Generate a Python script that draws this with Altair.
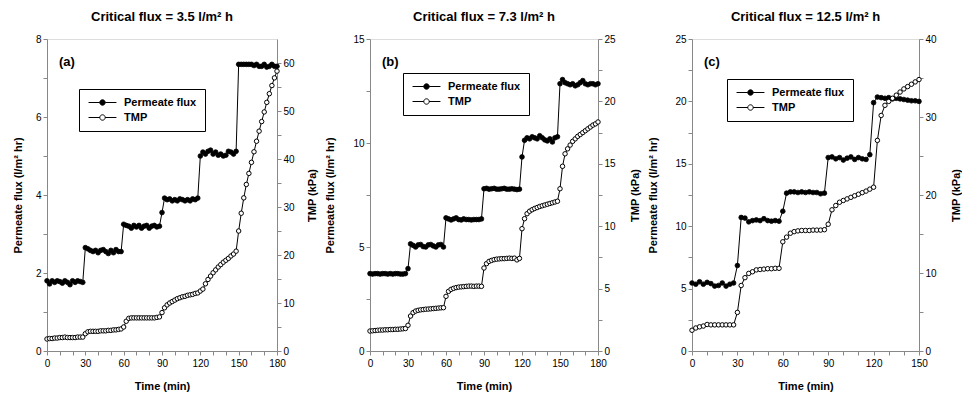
import altair as alt
import pandas as pd

series_names = ["Permeate flux", "TMP"]
titles = ["Critical flux = 3.5 l/m² h", "Critical flux = 7.3 l/m² h", "Critical flux = 12.5 l/m² h"]
panel_labels = ["(a)", "(b)", "(c)"]

time_ab = [0, 2, 4, 6, 8, 10, 12, 14, 16, 18, 20, 22, 24, 26, 28,
           30, 32, 34, 36, 38, 40, 42, 44, 46, 48, 50, 52, 54, 56, 58,
           60, 62, 64, 66, 68, 70, 72, 74, 76, 78, 80, 82, 84, 86, 88,
           90, 92, 94, 96, 98, 100, 102, 104, 106, 108, 110, 112, 114, 116, 118,
           120, 122, 124, 126, 128, 130, 132, 134, 136, 138, 140, 142, 144, 146, 148,
           150, 152, 154, 156, 158, 160, 162, 164, 166, 168, 170, 172, 174, 176, 178, 180]
time_c = [0, 2.5, 5, 7.5, 10, 12.5, 15, 17.5, 20, 22.5, 25, 27.5,
          30, 32.5, 35, 37.5, 40, 42.5, 45, 47.5, 50, 52.5, 55, 57.5,
          60, 62.5, 65, 67.5, 70, 72.5, 75, 77.5, 80, 82.5, 85, 87.5,
          90, 92.5, 95, 97.5, 100, 102.5, 105, 107.5, 110, 112.5, 115, 117.5,
          120, 122.5, 125, 127.5, 130, 132.5, 135, 137.5, 140, 142.5, 145, 147.5, 150]

flux_a = [1.80, 1.72, 1.80, 1.76, 1.80, 1.78, 1.74, 1.80, 1.76, 1.70, 1.80, 1.76, 1.80, 1.78, 1.76,
          2.65, 2.62, 2.58, 2.55, 2.58, 2.52, 2.58, 2.60, 2.55, 2.50, 2.58, 2.52, 2.60, 2.55, 2.55,
          3.25, 3.22, 3.20, 3.15, 3.22, 3.18, 3.22, 3.15, 3.20, 3.22, 3.15, 3.20, 3.22, 3.18, 3.20,
          3.55, 3.92, 3.88, 3.90, 3.85, 3.88, 3.85, 3.90, 3.88, 3.85, 3.88, 3.85, 3.90, 3.88, 3.92,
          5.00, 5.10, 5.05, 5.12, 5.15, 5.05, 5.10, 5.02, 5.05, 5.00, 5.02, 5.12, 5.10, 5.05, 5.12,
          7.35, 7.35, 7.35, 7.35, 7.35, 7.35, 7.32, 7.35, 7.30, 7.30, 7.35, 7.28, 7.30, 7.35, 7.30, 7.30]
tmp_a = [2.5, 2.6, 2.6, 2.7, 2.7, 2.8, 2.8, 2.9, 2.8, 2.8, 2.8, 2.8, 2.9, 2.9, 2.9,
         3.6, 4.0, 4.1, 4.1, 4.1, 4.1, 4.2, 4.2, 4.2, 4.3, 4.3, 4.4, 4.4, 4.5, 4.6,
         5.0, 6.2, 6.8, 6.9, 6.9, 6.9, 6.9, 6.9, 6.9, 6.9, 6.9, 6.9, 6.9, 7.0, 7.1,
         8.0, 9.0, 9.6, 10.0, 10.3, 10.6, 10.9, 11.1, 11.3, 11.4, 11.6, 11.7, 11.8, 12.0, 12.1,
         12.5, 12.9, 14.0, 14.9, 15.6, 16.3, 16.9, 17.5, 18.0, 18.5, 18.9, 19.3, 19.8, 20.2, 20.8,
         25.0, 28.7, 31.9, 34.7, 37.0, 39.3, 41.5, 43.7, 45.8, 47.8, 49.8, 51.8, 53.6, 55.3, 56.9, 58.3]

flux_b = [3.72, 3.70, 3.72, 3.72, 3.70, 3.72, 3.72, 3.70, 3.72, 3.70, 3.72, 3.72, 3.70, 3.70, 3.72,
          3.96, 5.15, 5.08, 5.00, 5.10, 5.12, 5.02, 5.00, 5.10, 5.12, 5.05, 5.00, 5.10, 5.12, 5.00,
          6.40, 6.35, 6.30, 6.35, 6.40, 6.32, 6.30, 6.35, 6.32, 6.32, 6.30, 6.32, 6.32, 6.32, 6.35,
          7.80, 7.82, 7.78, 7.80, 7.82, 7.78, 7.78, 7.80, 7.82, 7.78, 7.78, 7.80, 7.78, 7.76, 7.78,
          9.33, 10.13, 10.25, 10.20, 10.30, 10.25, 10.20, 10.35, 10.25, 10.15, 10.10, 10.20, 10.05, 10.25, 10.30,
          12.85, 13.05, 12.90, 12.85, 12.80, 12.85, 12.75, 12.80, 12.90, 13.00, 12.85, 12.80, 12.85, 12.85, 12.80, 12.85]
tmp_b = [1.60, 1.62, 1.64, 1.66, 1.68, 1.68, 1.70, 1.70, 1.72, 1.72, 1.74, 1.74, 1.76, 1.78, 1.80,
         2.06, 2.80, 3.07, 3.20, 3.26, 3.30, 3.32, 3.35, 3.36, 3.38, 3.40, 3.42, 3.44, 3.46, 3.47,
         4.38, 4.78, 4.94, 5.02, 5.08, 5.12, 5.14, 5.16, 5.18, 5.20, 5.20, 5.18, 5.20, 5.20, 5.18,
         6.65, 7.00, 7.18, 7.26, 7.32, 7.36, 7.38, 7.40, 7.40, 7.42, 7.44, 7.42, 7.44, 7.30, 7.42,
         9.80, 10.60, 11.00, 11.20, 11.32, 11.42, 11.50, 11.58, 11.64, 11.70, 11.76, 11.82, 11.88, 11.94, 12.00,
         13.0, 14.8, 15.8, 16.2, 16.5, 16.8, 17.0, 17.2, 17.35, 17.5, 17.65, 17.8, 17.95, 18.1, 18.2, 18.35]

flux_c = [5.45, 5.35, 5.55, 5.35, 5.50, 5.40, 5.20, 5.25, 5.45, 5.20, 5.35, 5.45,
          6.85, 10.70, 10.65, 10.35, 10.45, 10.50, 10.45, 10.60, 10.45, 10.40, 10.45, 10.40,
          11.20, 12.65, 12.75, 12.75, 12.70, 12.75, 12.70, 12.75, 12.70, 12.70, 12.60, 12.65,
          15.50, 15.55, 15.40, 15.50, 15.30, 15.45, 15.55, 15.35, 15.50, 15.40, 15.35, 15.73,
          19.90, 20.35, 20.30, 20.25, 20.30, 20.20, 20.25, 20.20, 20.15, 20.10, 20.05, 20.05, 20.00]
tmp_c = [2.66, 2.95, 3.10, 3.20, 3.40, 3.35, 3.35, 3.35, 3.35, 3.35, 3.35, 3.35,
         4.95, 8.40, 9.40, 9.95, 10.16, 10.40, 10.45, 10.50, 10.55, 10.55, 10.60, 10.60,
         14.00, 14.60, 15.10, 15.30, 15.40, 15.45, 15.45, 15.45, 15.50, 15.50, 15.50, 15.55,
         16.25, 18.10, 18.65, 19.07, 19.30, 19.50, 19.70, 19.90, 20.10, 20.30, 20.50, 20.75,
         21.00, 27.00, 30.20, 31.50, 32.00, 32.40, 32.80, 33.20, 33.60, 33.90, 34.20, 34.50, 34.80]

x_max = [180, 180, 150]
flux_max = [8, 15, 25]
flux_major = [2, 5, 5]
flux_minor = [1, 2.5, 2.5]
tmp_max = [65, 25, 40]
tmp_major = [10, 5, 10]
tmp_minor = [5, 2.5, 5]

FONT = "Liberation Sans"
SYM = "M-3.1,0H-0.6M0.6,0H3.1M-0.6,0A0.6,0.6,0,1,1,0.6,0A0.6,0.6,0,1,1,-0.6,0"

widths = [230, 228, 227]
left_title_x = [-29, -40, -39]
right_title_x = [35, 37, 37]
legend_xy = [(32, 50), (33, 34), (35, 40)]


def ticks(maxv, step):
    out, v = [], 0.0
    while v <= maxv + 1e-9:
        out.append(round(v, 3))
        v += step
    return out


def panel(i, times, flux, tmp):
    df_f = pd.DataFrame({"t": times, "v": flux, "series": series_names[0]})
    df_t = pd.DataFrame({"t": times, "v": tmp, "series": series_names[1]})

    x_enc = alt.X("t:Q", scale=alt.Scale(domain=[0, x_max[i]], nice=False, zero=False),
                  axis=alt.Axis(title="Time (min)", values=ticks(x_max[i], 10),
                                labelExpr="datum.value % 30 === 0 ? datum.label : ''",
                                labelFlush=False, labelOverlap=False, titlePadding=12,
                                tickSize=4, labelPadding=3, grid=False))
    fill_enc = alt.Fill("series:N",
                        scale=alt.Scale(domain=series_names, range=["black", "white"]),
                        legend=alt.Legend(title=None, orient="none",
                                          legendX=legend_xy[i][0], legendY=legend_xy[i][1],
                                          symbolType=SYM, symbolSize=81,
                                          symbolStrokeColor="black", symbolStrokeWidth=1,
                                          symbolOffset=10, labelOffset=16,
                                          labelFont=FONT, labelFontSize=11, labelFontWeight="bold",
                                          labelColor="black",
                                          padding=8, rowPadding=3,
                                          strokeColor="black", fillColor="white"))

    y_left = alt.Y("v:Q", scale=alt.Scale(domain=[0, flux_max[i]], nice=False),
                   axis=alt.Axis(orient="left", title="Permeate flux (l/m² hr)",
                                 values=ticks(flux_max[i], flux_minor[i]),
                                 labelExpr=f"datum.value % {flux_major[i]} === 0 ? datum.label : ''",
                                 titleX=left_title_x[i], titleBaseline="middle", titleAngle=270,
                                 labelOverlap=False, tickSize=4, labelPadding=2, grid=False))
    y_right = alt.Y("v:Q", scale=alt.Scale(domain=[0, tmp_max[i]], nice=False),
                    axis=alt.Axis(orient="right", title="TMP (kPa)",
                                  values=ticks(60 if i == 0 else tmp_max[i], tmp_minor[i]),
                                  labelExpr=f"datum.value % {tmp_major[i]} === 0 ? datum.label : ''",
                                  titleX=right_title_x[i], titleBaseline="middle", titleAngle=270,
                                  labelOverlap=False, tickSize=4, labelPadding=2, grid=False))

    f_line = alt.Chart(df_f).mark_line(color="black", strokeWidth=1).encode(x=x_enc, y=y_left)
    f_pts = alt.Chart(df_f).mark_point(filled=True, size=22, stroke="black", strokeWidth=0.8,
                                       opacity=1).encode(x=x_enc, y=y_left, fill=fill_enc)
    t_line = alt.Chart(df_t).mark_line(color="black", strokeWidth=1).encode(x=x_enc, y=y_right)
    t_pts = alt.Chart(df_t).mark_point(filled=True, size=20, stroke="black", strokeWidth=1,
                                       opacity=1).encode(x=x_enc, y=y_right, fill=fill_enc)

    lab = alt.Chart(pd.DataFrame({"label": [panel_labels[i]]})).mark_text(
        font=FONT, fontSize=13, fontWeight="bold", align="left", baseline="middle", color="black"
    ).encode(x=alt.value(12), y=alt.value(23), text="label:N")

    return alt.layer(alt.layer(f_line, f_pts), alt.layer(t_line, t_pts), lab).resolve_scale(
        y="independent"
    ).properties(
        width=widths[i], height=312,
        title=alt.TitleParams(titles[i], font=FONT, fontSize=13, fontWeight="bold",
                              color="black", baseline="alphabetic", offset=0, frame="group"),
    )


chart = alt.hconcat(
    panel(0, time_ab, flux_a, tmp_a),
    panel(1, time_ab, flux_b, tmp_b),
    panel(2, time_c, flux_c, tmp_c),
    spacing=5,
).resolve_scale(x="independent", y="independent", fill="independent").resolve_legend(
    fill="independent"
).properties(
    padding={"left": 11, "top": 10, "right": 0, "bottom": 0}
).configure_axis(
    labelFont=FONT, labelFontSize=11, labelFontWeight="bold", labelColor="black",
    titleFont=FONT, titleFontSize=13, titleFontWeight="bold", titleColor="black",
    domainColor="black", tickColor="black", grid=False, domainWidth=1,
).configure_view(stroke="black", strokeWidth=1).configure(background="white")

chart.save("out.html", embed_options={"renderer": "svg", "actions": False})
